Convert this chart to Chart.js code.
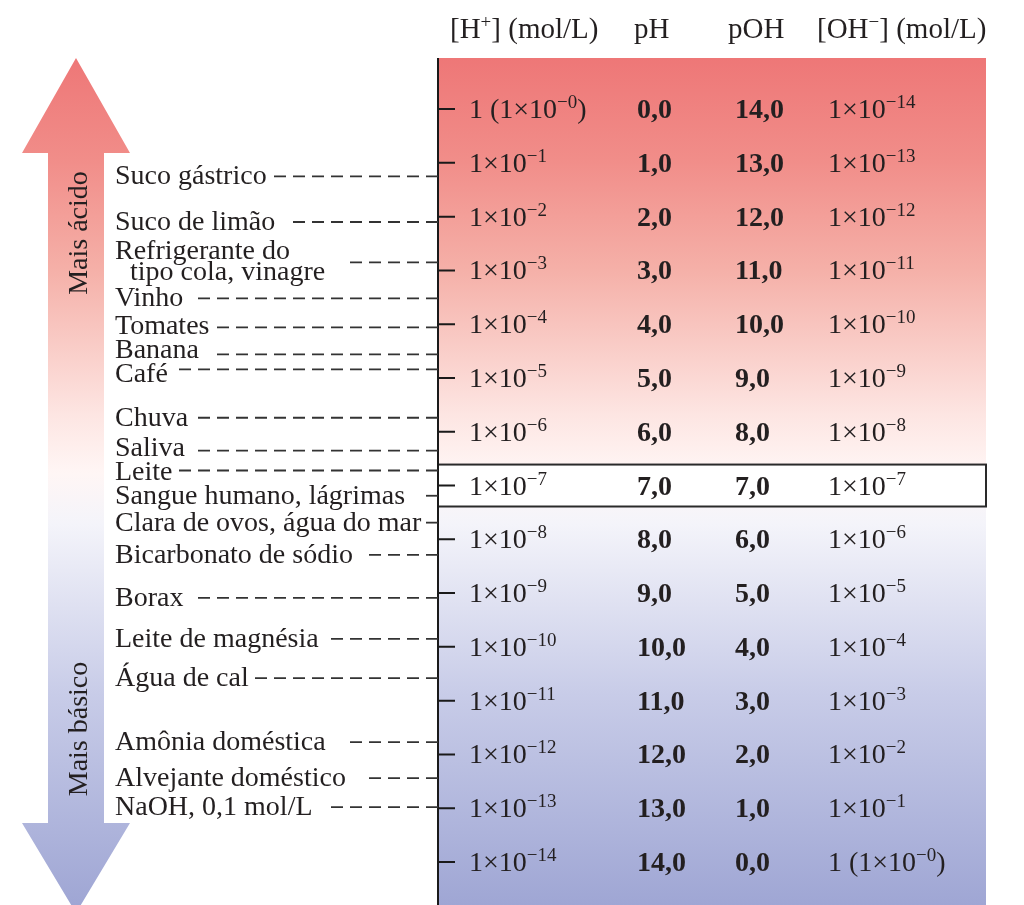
<!DOCTYPE html>
<html>
<head>
<meta charset="utf-8">
<script src="https://cdn.jsdelivr.net/npm/chart.js@4.4.1/dist/chart.umd.min.js"></script>
<style>
	html, body { margin: 0; padding: 0; background: #ffffff; }
	#wrap { width: 1024px; height: 905px; }
</style>
</head>
<body>
<div id="wrap"><canvas id="ph-canvas" width="1024" height="905"></canvas></div>
<script>
const PH_VALUES = [0, 1, 2, 3, 4, 5, 6, 7, 8, 9, 10, 11, 12, 13, 14];
const POH_VALUES = [14, 13, 12, 11, 10, 9, 8, 7, 6, 5, 4, 3, 2, 1, 0];
const H_EXPONENTS = [0, -1, -2, -3, -4, -5, -6, -7, -8, -9, -10, -11, -12, -13, -14];
const OH_EXPONENTS = [-14, -13, -12, -11, -10, -9, -8, -7, -6, -5, -4, -3, -2, -1, 0];
const SUBSTANCES = [
	"Suco gástrico",
	"Suco de limão",
	"Refrigerante do\ntipo cola, vinagre",
	"Vinho",
	"Tomates",
	"Banana",
	"Café",
	"Chuva",
	"Saliva",
	"Leite",
	"Sangue humano, lágrimas",
	"Clara de ovos, água do mar",
	"Bicarbonato de sódio",
	"Borax",
	"Leite de magnésia",
	"Água de cal",
	"Amônia doméstica",
	"Alvejante doméstico",
	"NaOH, 0,1 mol/L",
];
const SUBSTANCE_PH = [
	1.25, 2.1, 2.85, 3.52, 4.06, 4.56, 4.84, 5.74, 6.35, 6.72, 7.19, 7.69,
	8.29, 9.09, 9.85, 10.58, 11.77, 12.44, 12.98,
];
const HEADERS = ["[H|+|] (mol/L)", "pH", "pOH", "[OH|−|] (mol/L)"];
const SIDE_LABELS = ["Mais ácido", "Mais básico"];

const TEXT_COLOR = "#231f20";
const FACE = "'Liberation Serif', serif";
const BODY_FONT = "28px " + FACE;
const HEAD_FONT = "29px " + FACE;
const BOLD_FONT = "bold 28px " + FACE;
const SUP_FONT = "19px " + FACE;
const NEUTRAL_BAND = 0.39;
const LINE_STEP = 21;
const LABEL_GAP = 24;
const DASH = 12;
const DASH_GAP = 7;

const fmtDecimal = (v) => v.toFixed(1).replace(".", ",");
const powerParts = (e) =>
	e === 0
		? [["1 (1×10", false], ["−0", true], [")", false]]
		: [["1×10", false], ["−" + Math.abs(e), true]];
// "a|b|c" -> text with superscript middle part
const headerParts = (s) => s.split("|").map((t, i) => [t, i % 2 === 1]);

const drawRich = (ctx, parts, x, y, font) => {
	ctx.textAlign = "left";
	var cx = x;
	parts.forEach(([t, sup]) => {
		ctx.font = sup ? SUP_FONT : font;
		ctx.fillText(t, cx, sup ? y - 10 : y);
		cx += ctx.measureText(t).width;
	});
	return cx;
};

const makeGradient = (ctx, top, bottom) => {
	var g = ctx.createLinearGradient(0, top, 0, bottom);
	g.addColorStop(0, "#ee7777");
	g.addColorStop(0.12, "#f18d89");
	g.addColorStop(0.25, "#f5b0a8");
	g.addColorStop(0.42, "#fde5e2");
	g.addColorStop(0.49, "#fff6f5");
	g.addColorStop(0.55, "#f4f4fa");
	g.addColorStop(0.75, "#c8cce8");
	g.addColorStop(1, "#9fa6d4");
	return g;
};

// spread label baselines apart so neighbouring names do not collide
const layoutLabels = (items) => {
	for (var k = 0; k < 30; k++) {
		for (var i = 1; i < items.length; i++) {
			var prev = items[i - 1];
			var cur = items[i];
			var need = prev.b + (prev.lines.length - 1) * LINE_STEP + LABEL_GAP - cur.b;
			if (need > 0) {
				prev.b -= need / 2;
				cur.b += need / 2;
			}
		}
	}
	return items;
};

const phScalePlugin = {
	id: "phScale",
	beforeDatasetsDraw: (chart) => {
		var ctx = chart.ctx;
		var area = chart.chartArea;
		var y = chart.scales.y;
		var grad = makeGradient(ctx, area.top, area.bottom);
		ctx.save();

		// background panel
		ctx.fillStyle = grad;
		ctx.fillRect(area.left, area.top, area.right - area.left, area.bottom - area.top);

		// double arrow on the left
		ctx.beginPath();
		ctx.moveTo(76, 58);
		ctx.lineTo(130, 153);
		ctx.lineTo(104, 153);
		ctx.lineTo(104, 823);
		ctx.lineTo(130, 823);
		ctx.lineTo(76, 913);
		ctx.lineTo(22, 823);
		ctx.lineTo(48, 823);
		ctx.lineTo(48, 153);
		ctx.lineTo(22, 153);
		ctx.closePath();
		ctx.fill();

		// neutral box
		var bTop = y.getPixelForValue(7 - NEUTRAL_BAND);
		var bBot = y.getPixelForValue(7 + NEUTRAL_BAND);
		ctx.fillStyle = "#ffffff";
		ctx.fillRect(area.left, bTop, area.right - area.left, bBot - bTop);
		ctx.strokeStyle = "#2a2a2a";
		ctx.lineWidth = 2;
		ctx.strokeRect(area.left, bTop, area.right - area.left, bBot - bTop);

		// axis + ticks
		ctx.strokeStyle = "#1a1a1a";
		ctx.lineWidth = 2;
		ctx.beginPath();
		ctx.moveTo(area.left, area.top);
		ctx.lineTo(area.left, area.bottom);
		PH_VALUES.forEach((v) => {
			var py = y.getPixelForValue(v);
			ctx.moveTo(area.left, py);
			ctx.lineTo(area.left + 17, py);
		});
		ctx.stroke();
		ctx.restore();
	},
	afterDraw: (chart) => {
		var ctx = chart.ctx;
		var area = chart.chartArea;
		var y = chart.scales.y;
		ctx.save();
		ctx.fillStyle = TEXT_COLOR;
		ctx.textBaseline = "alphabetic";

		// headers
		drawRich(ctx, headerParts(HEADERS[0]), 450, 38, HEAD_FONT);
		drawRich(ctx, headerParts(HEADERS[1]), 634, 38, HEAD_FONT);
		drawRich(ctx, headerParts(HEADERS[2]), 728, 38, HEAD_FONT);
		drawRich(ctx, headerParts(HEADERS[3]), 817, 38, HEAD_FONT);

		// rows
		PH_VALUES.forEach((v, i) => {
			var py = y.getPixelForValue(v) + 9;
			drawRich(ctx, powerParts(H_EXPONENTS[i]), 469, py, BODY_FONT);
			ctx.font = BOLD_FONT;
			ctx.textAlign = "left";
			ctx.fillText(fmtDecimal(v), 637, py);
			ctx.fillText(fmtDecimal(POH_VALUES[i]), 735, py);
			drawRich(ctx, powerParts(OH_EXPONENTS[i]), 828, py, BODY_FONT);
		});

		// substances with dashed leaders
		ctx.font = BODY_FONT;
		ctx.textAlign = "left";
		var items = layoutLabels(
			SUBSTANCES.map((name, i) => {
				var py = y.getPixelForValue(SUBSTANCE_PH[i]);
				var lines = name.split("\n");
				return { py: py, lines: lines, b: lines.length > 1 ? py - 3 : py + 8 };
			})
		);
		items.forEach((it) => {
			var end = 0;
			it.lines.forEach((ln, j) => {
				var lx = 115 + j * 15;
				ctx.fillText(ln, lx, it.b + j * LINE_STEP);
				end = Math.max(end, lx + ctx.measureText(ln).width);
			});
			// whole dashes only, ending on the axis
			var room = area.left - (end + 6);
			var n = Math.max(0, Math.floor((room - DASH) / (DASH + DASH_GAP)));
			var len = n * (DASH + DASH_GAP) + DASH;
			ctx.strokeStyle = "#333333";
			ctx.lineWidth = 1.8;
			ctx.setLineDash([DASH, DASH_GAP]);
			ctx.beginPath();
			ctx.moveTo(area.left, it.py);
			ctx.lineTo(area.left - len, it.py);
			ctx.stroke();
			ctx.setLineDash([]);
		});

		// rotated side labels
		[[SIDE_LABELS[0], 233], [SIDE_LABELS[1], 729]].forEach(([t, cy]) => {
			ctx.save();
			ctx.translate(87, cy);
			ctx.rotate(-Math.PI / 2);
			ctx.font = BODY_FONT;
			ctx.textAlign = "center";
			ctx.fillText(t, 0, 0);
			ctx.restore();
		});
		ctx.restore();
	},
};

new Chart(document.getElementById("ph-canvas"), {
	type: "scatter",
	data: {
		datasets: [
			{
				label: "pH",
				data: SUBSTANCE_PH.map((v) => ({ x: 0, y: v })),
				pointRadius: 0,
			},
		],
	},
	plugins: [phScalePlugin],
	options: {
		responsive: false,
		animation: false,
		layout: { padding: { left: 438, right: 38, top: 58, bottom: 0 } },
		scales: {
			x: { display: false, min: 0, max: 1 },
			y: { display: false, min: -0.95, max: 14.8, reverse: true },
		},
		plugins: {
			legend: { display: false },
			tooltip: { enabled: false },
		},
	},
});
</script>
</body>
</html>
